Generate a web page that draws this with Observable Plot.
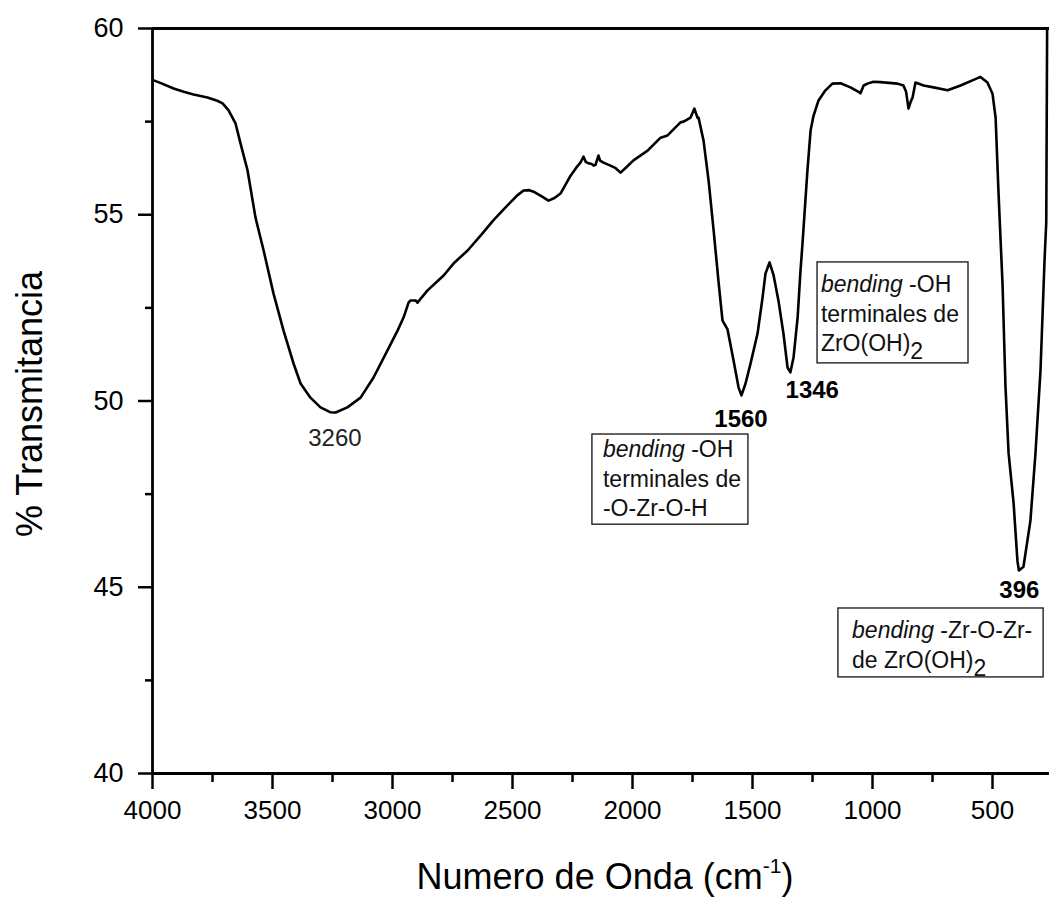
<!DOCTYPE html>
<html><head><meta charset="utf-8">
<script src="https://cdn.jsdelivr.net/npm/d3@7"></script>
<script src="https://cdn.jsdelivr.net/npm/@observablehq/plot@0.6"></script>
<style>body{margin:0;background:#fff;} svg{display:block;}</style>
</head><body><div id="chart"></div>
<script>
// FTIR spectrum, wavenumber (cm-1) vs % transmittance
const wavenumber = [4000,3960,3912,3870,3829,3771,3730,3708,3683,3654,3633,3604,3571,3537,3496,3454,3412,3383,3342,3300,3260,3237,3188,3133,3079,3021,2979,2954,2933,2925,2904,2896,2854,2787,2746,2687,2633,2580,2521,2480,2454,2430,2412,2380,2350,2325,2300,2258,2230,2217,2204,2195,2183,2170,2162,2154,2142,2135,2121,2092,2070,2050,2030,1996,1937,1883,1854,1800,1787,1758,1742,1729,1725,1704,1683,1662,1642,1625,1604,1579,1558,1546,1529,1508,1479,1458,1446,1429,1412,1392,1371,1354,1342,1329,1312,1300,1292,1271,1258,1246,1225,1196,1167,1133,1092,1058,1050,1037,1021,996,967,896,871,860,850,840,833,821,787,746,687,633,579,550,521,500,487,475,458,446,433,412,396,390,371,342,321,300,287,283,276,271];
const transmittance = [58.62,58.52,58.39,58.30,58.23,58.15,58.06,57.99,57.80,57.45,56.91,56.19,54.93,54.04,52.89,51.89,51.00,50.47,50.09,49.83,49.70,49.69,49.83,50.09,50.63,51.36,51.89,52.24,52.64,52.70,52.70,52.64,52.97,53.37,53.69,54.04,54.44,54.85,55.25,55.52,55.65,55.66,55.62,55.50,55.38,55.45,55.57,56.05,56.30,56.40,56.56,56.42,56.38,56.36,56.32,56.34,56.59,56.45,56.40,56.32,56.25,56.13,56.25,56.46,56.72,57.07,57.13,57.48,57.50,57.61,57.85,57.60,57.61,56.99,55.92,54.58,53.23,52.16,51.92,51.09,50.36,50.15,50.47,51.01,51.81,52.78,53.42,53.72,53.37,52.70,51.81,50.90,50.77,51.17,52.24,53.50,54.20,56.20,57.26,57.65,58.07,58.34,58.52,58.53,58.42,58.30,58.26,58.47,58.52,58.57,58.56,58.52,58.47,58.30,57.85,58.05,58.15,58.55,58.47,58.42,58.34,58.47,58.62,58.70,58.55,58.25,57.60,55.60,53.10,50.40,48.60,47.25,45.70,45.45,45.55,46.79,48.59,50.82,53.10,53.80,54.80,62.0];

const xTicks = [4000,3500,3000,2500,2000,1500,1000,500];
const xMinorTicks = [3750,3250,2750,2250,1750,1250,750];
const yTicks = [40,45,50,55,60];
const yMinorTicks = [42.5,47.5,52.5,57.5];

const xTitle = "Numero de Onda (cm";
const xTitleSup = "-1";
const yTitle = "% Transmitancia";

// peak labels (anchored in data coordinates)
const peakText = ["3260","1560","1346","396"];
const peakX = [3240,1548,1251,388];
const peakY = [48.78,49.29,50.09,44.72];
const peakBold = [false,true,true,true];

// annotation boxes (data coordinates)
const boxText = [
  ["*bending* -OH", "terminales de", "-O-Zr-O-H"],
  ["*bending* -OH", "terminales de", "ZrO(OH)_2"],
  ["*bending* -Zr-O-Zr-", "de ZrO(OH)_2"]
];
const boxTextX = [2121, 1213, 1083];
const boxTextY = [48.48, 52.91, 43.62];
const boxX1 = [2167, 1229, 1142];
const boxX2 = [1517, 600, 287];
const boxY1 = [49.10, 53.72, 44.43];
const boxY2 = [46.68, 51.01, 42.58];

const spectrum = wavenumber.map((w, i) => ({w, t: transmittance[i]}));
const peaks = peakText.map((s, i) => ({s, x: peakX[i], y: peakY[i], bold: peakBold[i]}));
const boxes = boxX1.map((x1, i) => ({x1, x2: boxX2[i], y1: boxY1[i], y2: boxY2[i]}));

const font = "Liberation Sans, Arial, Helvetica, sans-serif";

const plot = Plot.plot({
  width: 1049, height: 898,
  marginLeft: 152, marginRight: 0, marginTop: 28, marginBottom: 125,
  style: {fontFamily: font, background: "#fff", color: "#000"},
  x: {domain: [4000, 262.5]},
  y: {domain: [40, 60]},
  marks: [
    Plot.rect(boxes, {x1: "x1", x2: "x2", y1: "y1", y2: "y2", fill: "#fff", stroke: "#222", strokeWidth: 1.4}),
    Plot.line(spectrum, {x: "w", y: "t", stroke: "#000", strokeWidth: 2.6, clip: true, curve: "linear"}),
    Plot.axisX(xTicks, {tickSize: 16, tickPadding: 11, fontSize: 26, strokeWidth: 2.5, label: null, tickFormat: d => String(d)}),
    Plot.axisX(xMinorTicks, {tickSize: 9, strokeWidth: 2.5, label: null, tickFormat: () => ""}),
    Plot.axisY(yTicks, {tickSize: 14, tickPadding: 15, fontSize: 27, strokeWidth: 2.5, label: null, tickFormat: d => String(d)}),
    Plot.axisY(yMinorTicks, {tickSize: 7, strokeWidth: 2.5, label: null, tickFormat: () => ""}),
    Plot.ruleX([4000], {strokeWidth: 2.8}),
    Plot.ruleY([40, 60], {strokeWidth: 2.8}),
    Plot.text(peaks.filter(d => !d.bold), {x: "x", y: "y", text: "s", textAnchor: "middle", lineAnchor: "bottom", fontSize: 24, fill: "#222"}),
    Plot.text(peaks.filter(d => d.bold), {x: "x", y: "y", text: "s", textAnchor: "middle", lineAnchor: "bottom", fontSize: 24, fontWeight: "bold", fill: "#000"})
  ]
});

document.getElementById("chart").appendChild(plot);

const svg = d3.select(plot);
const sx = plot.scale("x"), sy = plot.scale("y");

// annotation text with italic & subscript
boxText.forEach((lines, i) => {
  lines.forEach((line, j) => {
    const x = sx.apply(boxTextX[i]);
    const y = sy.apply(boxTextY[i]) + j * 29.5;
    const t = svg.append("text").attr("x", x).attr("y", y).attr("text-anchor", "start")
      .attr("font-family", font).attr("font-size", 23).attr("fill", "#111");
    const re = /\*([^*]+)\*|_(\S+)|([^*_]+)/g;
    let m;
    while ((m = re.exec(line))) {
      if (m[1]) t.append("tspan").attr("font-style", "italic").text(m[1]);
      else if (m[2]) t.append("tspan").attr("dy", 8).text(m[2]);
      else t.append("tspan").text(m[3]);
    }
  });
});

// axis titles
const xt = svg.append("text").attr("x", 605).attr("y", 889).attr("text-anchor", "middle")
  .attr("font-family", font).attr("font-size", 36).attr("fill", "#000");
xt.append("tspan").text(xTitle);
xt.append("tspan").attr("font-size", 21).attr("dy", -16).text(xTitleSup);
xt.append("tspan").attr("dy", 16).text(")");

svg.append("text").attr("transform", "translate(42,404) rotate(-90)").attr("text-anchor", "middle")
  .attr("font-family", font).attr("font-size", 36).attr("fill", "#000").text(yTitle);
</script>
</body></html>
